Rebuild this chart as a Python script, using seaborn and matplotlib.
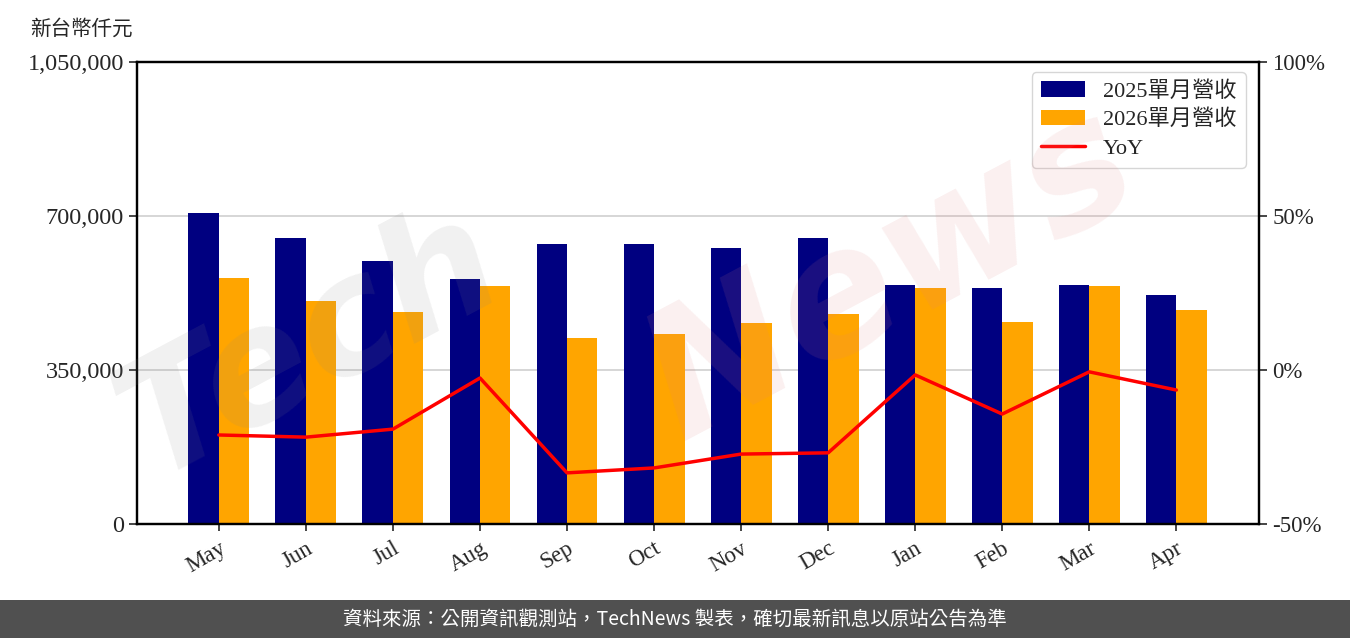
import pandas as pd
import numpy as np
import matplotlib.pyplot as plt
import seaborn as sns
from matplotlib.ticker import FuncFormatter

# --- data ---
months = ['May', 'Jun', 'Jul', 'Aug', 'Sep', 'Oct', 'Nov', 'Dec', 'Jan', 'Feb', 'Mar', 'Apr']
rev_2025 = [706800, 650000, 597700, 556800, 636400, 636400, 627300, 650000, 543200, 536400, 543200, 520500]
rev_2026 = [559100, 506800, 481800, 540900, 422700, 431800, 456800, 477300, 536400, 459100, 540900, 486400]
yoy = [-21.1, -21.8, -19.2, -2.6, -33.4, -31.8, -27.3, -26.9, -1.6, -14.3, -0.6, -6.5]
series_names = ['2025單月營收', '2026單月營收']

df = pd.DataFrame({
    'Month': months * 2,
    'Revenue': rev_2025 + rev_2026,
    'Series': [series_names[0]] * len(months) + [series_names[1]] * len(months),
})

sns.set_style('white')
plt.rcParams['font.family'] = ['Liberation Serif', 'Noto Sans CJK TC']

fig = plt.figure(figsize=(13.5, 6.38), dpi=100)
ax = fig.add_axes([0.1015, 0.1787, 0.8311, 0.7241])

sns.barplot(data=df, x='Month', y='Revenue', hue='Series', order=months,
            palette=['#000080', '#FFA500'], width=0.7, saturation=1,
            linewidth=0, ax=ax, zorder=2)
ax.set_xlim(-0.94, 11.95)
ax.set_ylim(0, 1050000)
ax.set_yticks([0, 350000, 700000, 1050000])
ax.yaxis.set_major_formatter(FuncFormatter(lambda v, p: f'{int(v):,}'))
ax.grid(axis='y', color='#d0d0d0', lw=1.2, zorder=0)
ax.set_axisbelow(True)
ax.set_xlabel('')
ax.set_ylabel('')
ax.tick_params(axis='y', labelsize=17.5, length=6, width=1.2, left=True)
ax.tick_params(axis='x', labelsize=16.5, length=5, width=1.2, bottom=True, pad=5)
plt.setp(ax.get_xticklabels(), rotation=30, ha='right', rotation_mode='anchor')
for s in ax.spines.values():
    s.set_color('black')
    s.set_linewidth(1.6)

ax2 = ax.twinx()
ax2.plot(range(len(months)), yoy, color='red', lw=2.5, zorder=5, label='YoY')
ax2.set_ylim(-50, 100)
ax2.set_yticks([-50, 0, 50, 100])
ax2.yaxis.set_major_formatter(FuncFormatter(lambda v, p: f'{int(v)}%'))
ax2.tick_params(axis='y', labelsize=16.5, length=6, width=1.2, right=True)
for s in ax2.spines.values():
    s.set_color('black')
    s.set_linewidth(1.6)

# legend combined
h1, l1 = ax.get_legend_handles_labels()
h2, l2 = ax2.get_legend_handles_labels()
ax.get_legend().remove()
leg = ax2.legend(h1 + h2, l1 + l2, loc='upper right', fontsize=16,
                 frameon=True, handlelength=2.0, borderpad=0.4, borderaxespad=0,
                 labelspacing=0.36, handletextpad=0.8, bbox_to_anchor=(0.988, 0.978))
leg.get_frame().set_edgecolor('#cccccc')

# watermark
fig.text(0.23, 0.46, 'Tech', fontsize=115, fontstyle='italic', fontweight='bold',
         color='#888888', alpha=0.12, rotation=28, ha='center', va='center',
         family='DejaVu Sans', zorder=3)
fig.text(0.66, 0.57, 'News', fontsize=125, fontstyle='italic', fontweight='bold',
         color='#e08080', alpha=0.12, rotation=28, ha='center', va='center',
         family='DejaVu Sans', zorder=3)

fig.text(0.022, 0.955, '新台幣仟元', fontsize=14.8, family=['Noto Sans CJK TC'],
         ha='left', va='center')

# footer band
fig.patches.append(plt.Rectangle((0, 0), 1, 38 / 638, transform=fig.transFigure,
                                 facecolor='#505050', edgecolor='none', zorder=0))
fig.text(0.5, 19 / 638, '資料來源：公開資訊觀測站，TechNews 製表，確切最新訊息以原站公告為準',
         color='white', fontsize=14, family=['Noto Sans CJK TC'],
         ha='center', va='center')

plt.savefig('out.png', dpi=100)
